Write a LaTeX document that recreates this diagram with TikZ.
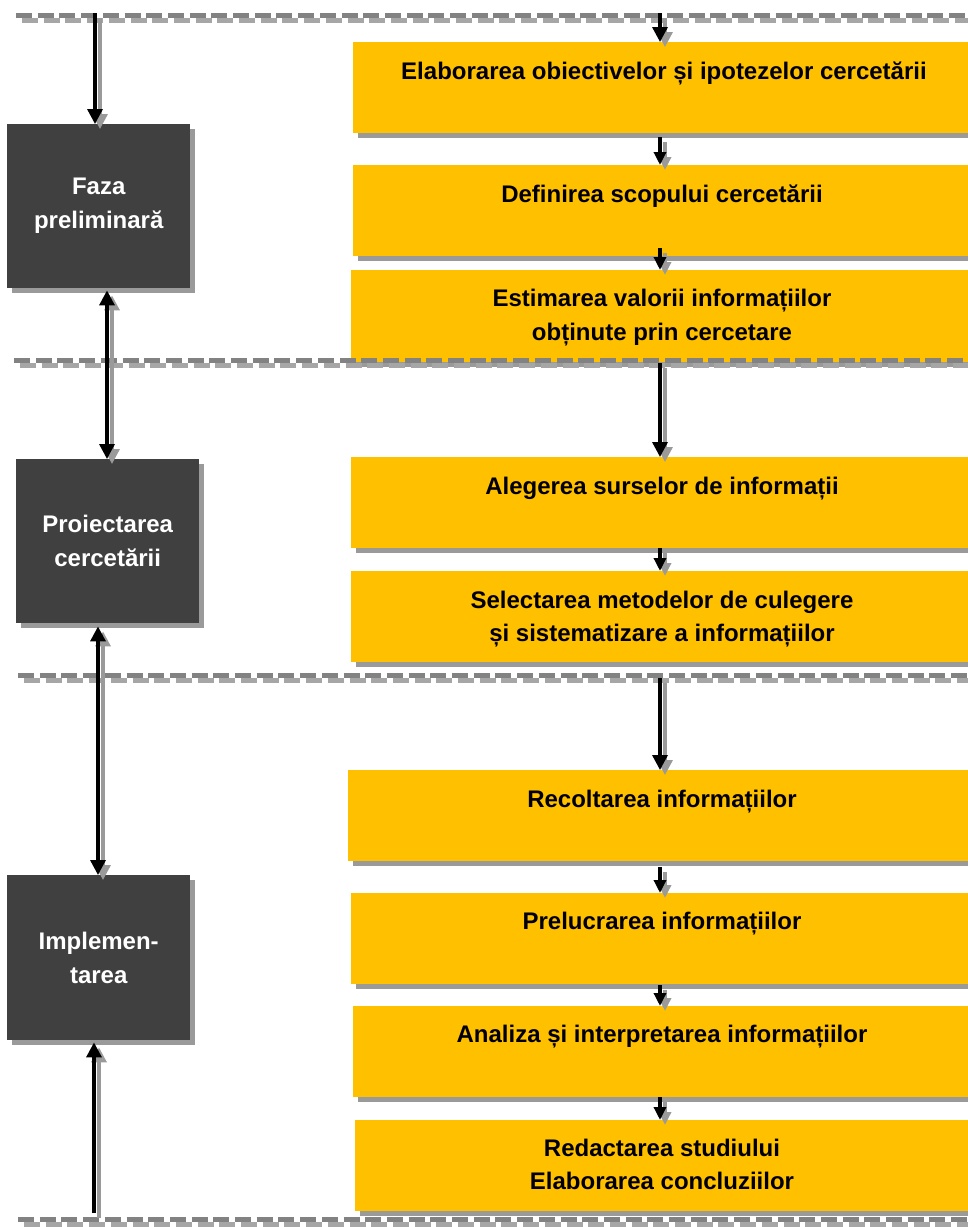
\documentclass[tikz,border=0pt]{standalone}
\usepackage{fontspec}
\setmainfont{Liberation Sans}
\usetikzlibrary{arrows.meta,calc,shadows}
\definecolor{orng}{HTML}{FFC000}
\definecolor{darkbox}{HTML}{404040}
\definecolor{shd}{HTML}{9A9A9A}
\definecolor{dashA}{HTML}{828282}
\definecolor{dashB}{HTML}{A6A6A6}
\begin{document}
\begin{tikzpicture}[x=1pt,y=-1pt,
  boxshadow/.style={drop shadow={shadow xshift=5pt,shadow yshift=-5pt,fill=shd,opacity=1}},
  obox/.style={fill=orng,draw=none,inner sep=0pt,anchor=north west,boxshadow},
  otext/.style={anchor=north,inner sep=0pt,align=center,text=black,
    font=\bfseries\fontsize{24}{33.5}\selectfont},
  dbox/.style={fill=darkbox,draw=none,inner sep=0pt,anchor=north west,boxshadow,
    minimum width=183pt,align=center,text=white,
    font=\bfseries\fontsize{24}{34}\selectfont},
  dashup/.style={draw=dashA,line width=5pt,dash pattern=on 16pt off 5.7pt},
  dashlow/.style={draw=dashB,line width=5pt,dash pattern=on 16pt off 5.7pt},
  bigtip/.tip={Triangle[width=15pt,length=15pt]},
  smalltip/.tip={Triangle[width=12pt,length=13pt]},
  blk/.style={draw=black,line width=3.3pt},
  gry/.style={draw=shd,line width=3.3pt,transform canvas={shift={(5,5)}}},
]
\useasboundingbox (0,0) rectangle (968,1227);

% orange boxes
\node[obox,minimum width=622pt,minimum height=91pt] (b1) at (353,42) {};
\node[obox,minimum width=622pt,minimum height=91pt] (b2) at (353,165) {};
\node[obox,minimum width=624pt,minimum height=92pt] (b3) at (351,270) {};
\node[obox,minimum width=624pt,minimum height=91pt] (b4) at (351,457) {};
\node[obox,minimum width=624pt,minimum height=91pt] (b5) at (351,571) {};
\node[obox,minimum width=627pt,minimum height=91pt] (b6) at (348,770) {};
\node[obox,minimum width=624pt,minimum height=91pt] (b7) at (351,893) {};
\node[obox,minimum width=622pt,minimum height=91pt] (b8) at (353,1006) {};
\node[obox,minimum width=620pt,minimum height=91pt] (b9) at (355,1120) {};

\node[otext] (t1) at (664,61.5) {Elaborarea obiectivelor și ipotezelor cercetării};
\node[otext] (t2) at (662,184.5) {Definirea scopului cercetării};
\node[otext] (t3) at (662,289) {Estimarea valorii informațiilor\\obținute prin cercetare};
\node[otext] (t4) at (662,476.5) {Alegerea surselor de informații};
\node[otext] (t5) at (662,590.5) {Selectarea metodelor de culegere\\și sistematizare a informațiilor};
\node[otext] (t6) at (662,789.5) {Recoltarea informațiilor};
\node[otext] (t7) at (662,911.5) {Prelucrarea informațiilor};
\node[otext] (t8) at (662,1024.5) {Analiza și interpretarea informațiilor};
\node[otext] (t9) at (662,1138.5) {Redactarea studiului\\Elaborarea concluziilor};

% dark boxes
\node[dbox,minimum height=164pt] (d1) at (7,124) {Faza\\preliminară};
\node[dbox,minimum height=164pt] (d2) at (16,459) {Proiectarea\\cercetării};
\node[dbox,minimum height=165pt] (d3) at (7,875) {Implemen-\\tarea};

% dashed separators
\draw[dashup]  (16,15)    -- (975,15);
\draw[dashlow] (22,20)    -- (975,20);
\draw[dashup]  (14,360.5) -- (975,360.5);
\draw[dashlow] (20,365.5) -- (975,365.5);
\draw[dashup]  (18,675.5) -- (975,675.5);
\draw[dashlow] (24,680.5) -- (975,680.5);
\draw[dashup]  (18,1219.5) -- (975,1219.5);
\draw[dashlow] (24,1224.5) -- (975,1224.5);

% free ends of connectors
\coordinate (c1) at (95,13);
\coordinate (x2) at (107,0);
\coordinate (x3) at (98,0);
\coordinate (c4) at (94,1213);
\coordinate (xr) at (660,0);
\coordinate (r0) at (660,13);
\coordinate (r3) at (660,363);
\coordinate (r5) at (660,678);

% left connectors
\foreach \s in {gry,blk}{
  \draw[\s,-bigtip] (c1) -- (c1 |- d1.north);
  \draw[\s,bigtip-bigtip] ($(x2 |- d1.south)+(0,2)$) -- (x2 |- d2.north);
  \draw[\s,bigtip-bigtip] ($(x3 |- d2.south)+(0,3)$) -- (x3 |- d3.north);
  \draw[\s,-bigtip] (c4) -- ($(c4 |- d3.south)+(0,2)$);
  % right connectors
  \draw[\s,-bigtip] (r0) -- (xr |- b1.north);
  \draw[\s,-smalltip] ($(xr |- b1.south)+(0,4)$) -- (xr |- b2.north);
  \draw[\s,-smalltip] ($(xr |- b2.south)+(0,-8)$) -- (xr |- b3.north);
  \draw[\s,-bigtip] (r3) -- (xr |- b4.north);
  \draw[\s,-smalltip] ($(xr |- b4.south)+(0,0)$) -- (xr |- b5.north);
  \draw[\s,-bigtip] (r5) -- (xr |- b6.north);
  \draw[\s,-smalltip] ($(xr |- b6.south)+(0,6)$) -- (xr |- b7.north);
  \draw[\s,-smalltip] ($(xr |- b7.south)+(0,1)$) -- (xr |- b8.north);
  \draw[\s,-smalltip] ($(xr |- b8.south)+(0,0)$) -- (xr |- b9.north);
}
\end{tikzpicture}
\end{document}
